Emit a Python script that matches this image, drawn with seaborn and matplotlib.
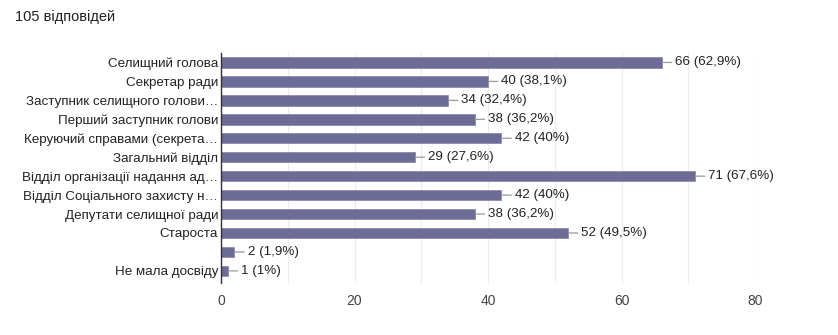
import matplotlib
matplotlib.use("Agg")
import matplotlib.pyplot as plt
import seaborn as sns
import pandas as pd
from matplotlib.ticker import MultipleLocator

title = "105 відповідей"
categories = [
    "Селищний голова",
    "Секретар ради",
    "Заступник селищного голови…",
    "Перший заступник голови",
    "Керуючий справами (секрета…",
    "Загальний відділ",
    "Відділ організації надання ад…",
    "Відділ Соціального захисту н…",
    "Депутати селищної ради",
    "Староста",
    "",
    "Не мала досвіду",
]
counts = [66, 40, 34, 38, 42, 29, 71, 42, 38, 52, 2, 1]
pct_labels = ["62,9%", "38,1%", "32,4%", "36,2%", "40%", "27,6%",
              "67,6%", "40%", "36,2%", "49,5%", "1,9%", "1%"]
xticks = [0, 20, 40, 60, 80]

sns.set_theme(style="white")
plt.rcParams["font.family"] = ["Liberation Sans", "DejaVu Sans"]

df = pd.DataFrame({"cat": categories, "n": counts})

fig = plt.figure(figsize=(8.38, 3.35), dpi=100)
ax = fig.add_axes([221 / 838, 1 - 283 / 335, (755 - 221) / 838, (283 - 53) / 335])

sns.barplot(data=df, x="n", y="cat", order=categories, orient="h",
            color="#6c6c96", saturation=1, width=0.55, ax=ax,
            edgecolor="#8a8aad", linewidth=0.6)

ax.set_xlim(0, 80)
ax.set_ylim(len(categories) - 0.36, -0.5)
ax.set_xticks(xticks)
ax.xaxis.set_minor_locator(MultipleLocator(10))
ax.grid(True, axis="x", which="both", color="#ebebeb", linewidth=0.9)
ax.set_axisbelow(True)
for s in ["top", "right", "bottom"]:
    ax.spines[s].set_visible(False)
ax.spines["left"].set_color("#333333")
ax.spines["left"].set_linewidth(1.0)
ax.set_xlabel("")
ax.set_ylabel("")
ax.tick_params(axis="both", length=0)
ax.tick_params(axis="x", pad=8, labelsize=10, labelcolor="#444444")
ax.tick_params(axis="y", pad=2, labelsize=9.65, labelcolor="#222222")

for i, (v, p) in enumerate(zip(counts, pct_labels)):
    ax.annotate(f"{v} ({p})", xy=(v, i), xycoords="data",
                xytext=(9.5, 0), textcoords="offset points",
                ha="left", va="center", fontsize=9.65, color="#222222",
                arrowprops=dict(arrowstyle="-", color="#9a9a9a", lw=0.9,
                                shrinkA=0, shrinkB=0.5))

fig.text(15 / 838, 1 - 17 / 335, title, ha="left", va="center",
         fontsize=10.5, color="#222222")

fig.savefig("out.png", dpi=100)
